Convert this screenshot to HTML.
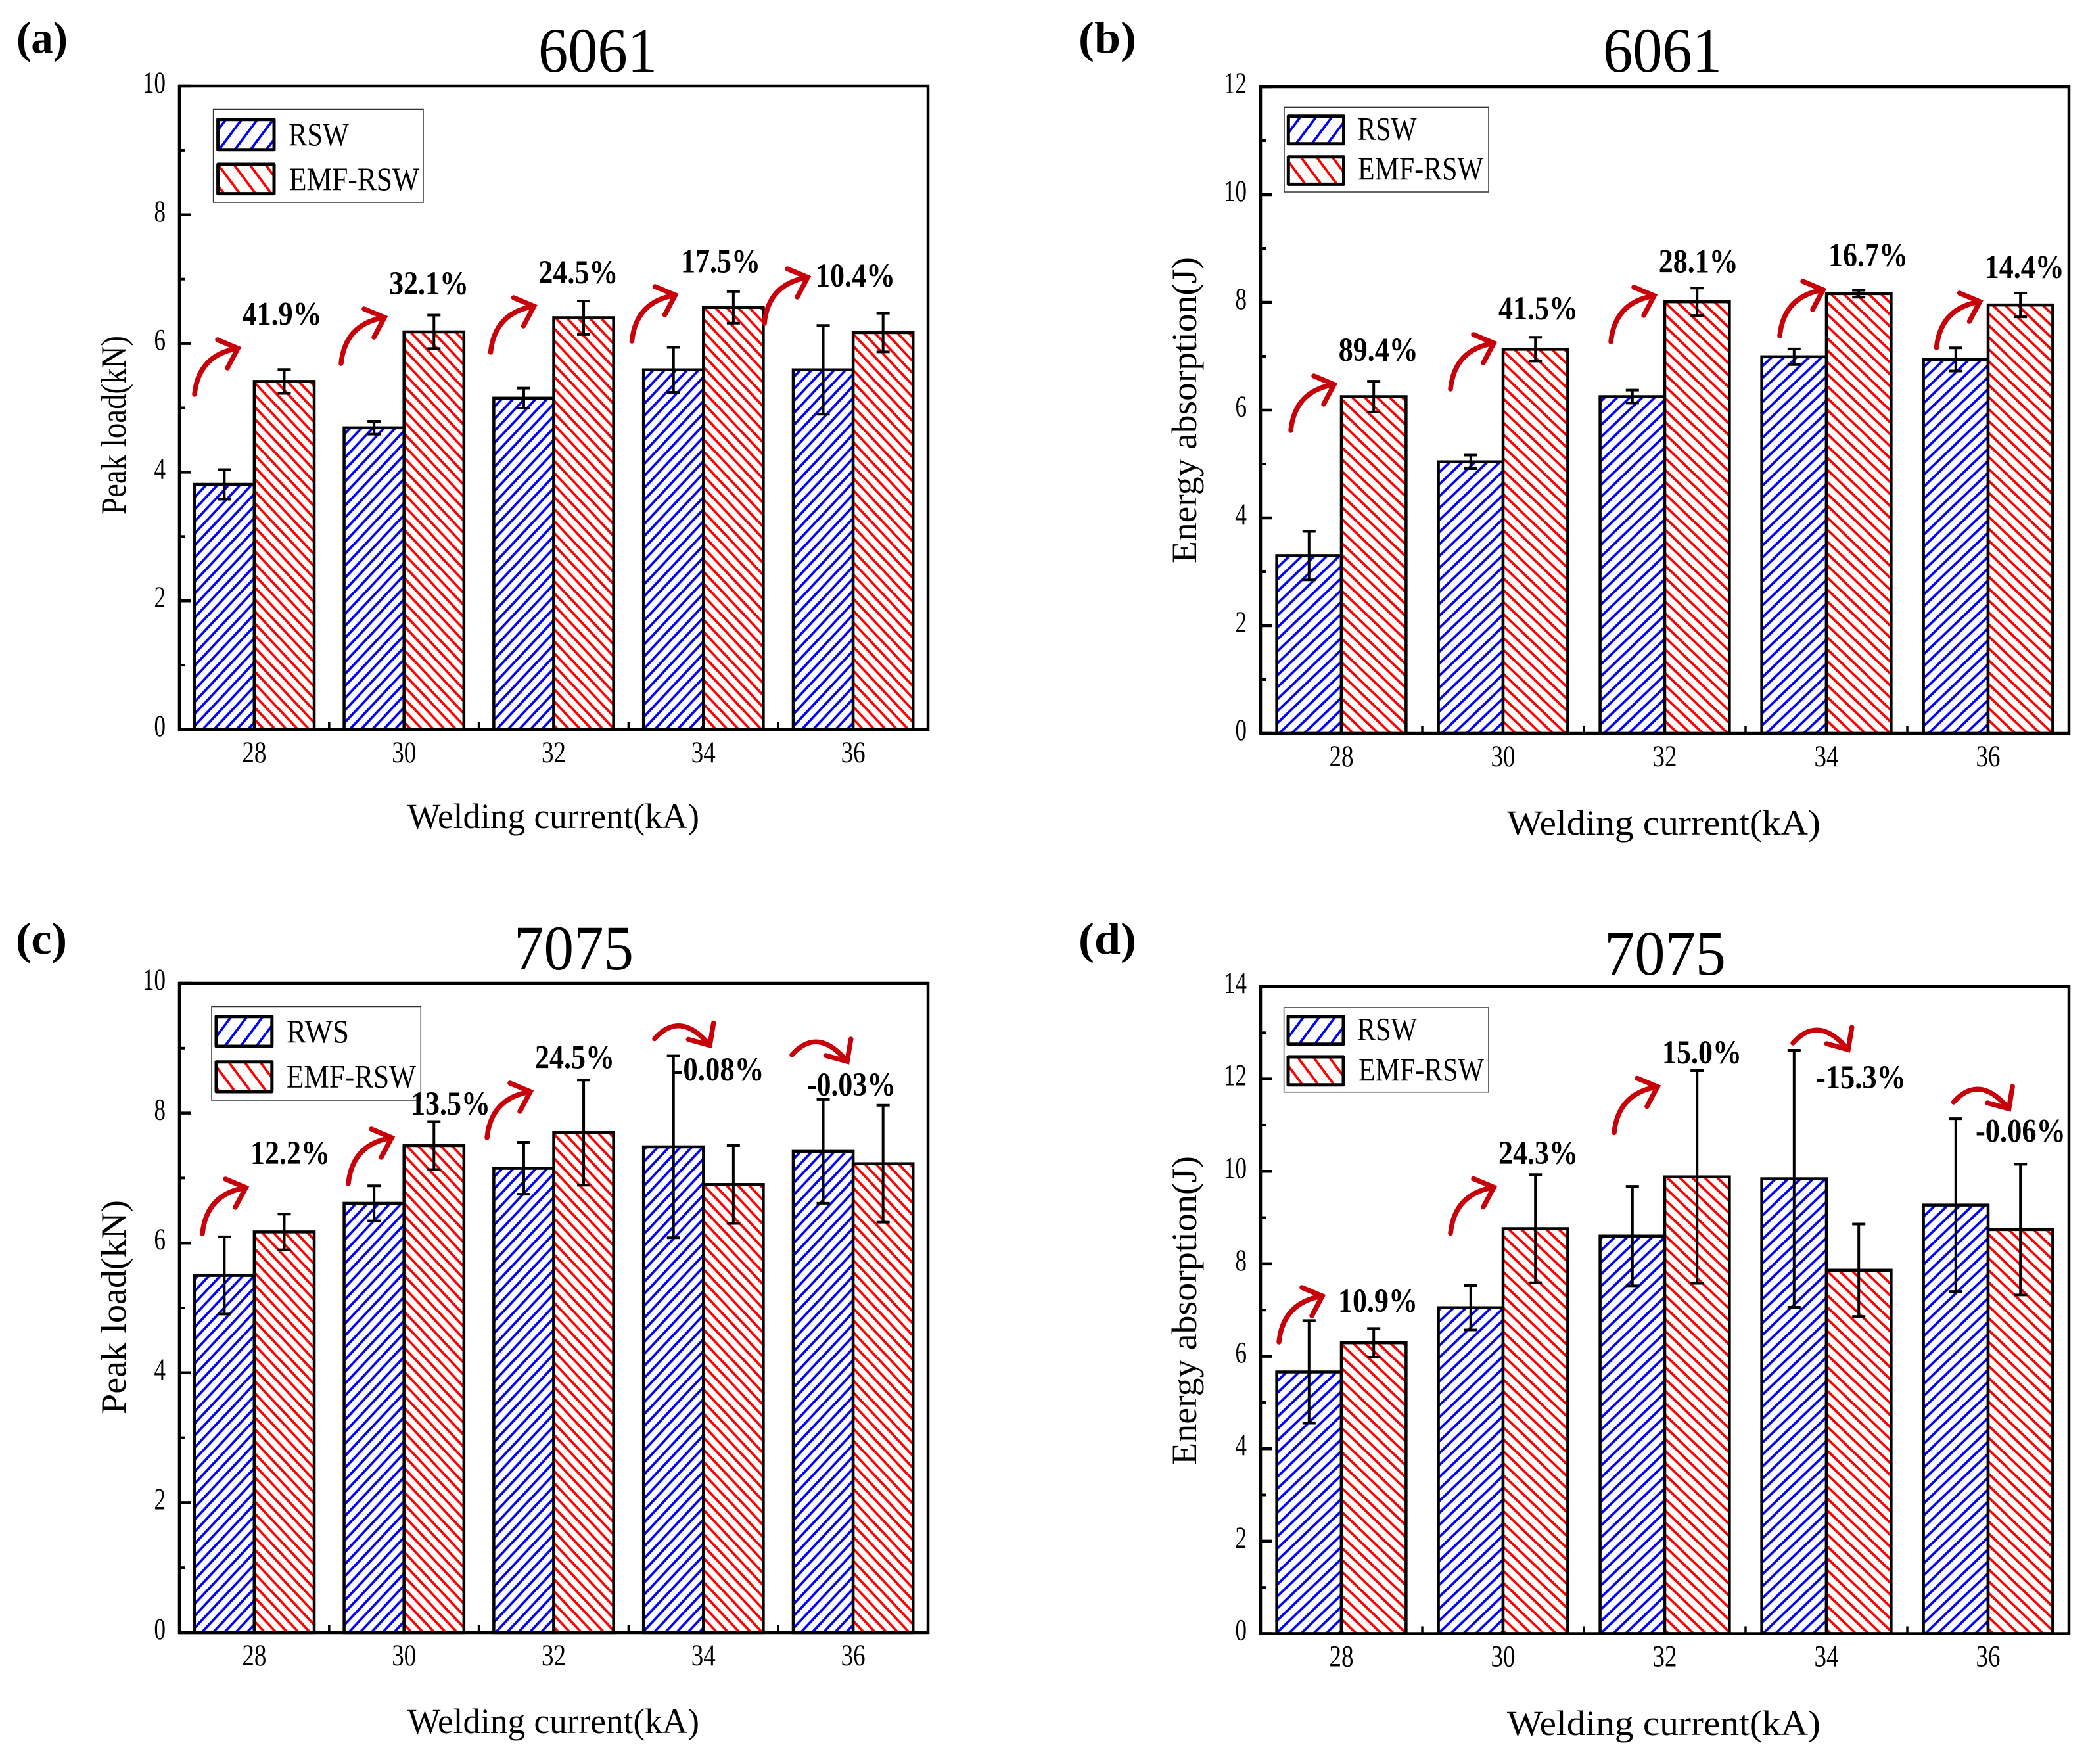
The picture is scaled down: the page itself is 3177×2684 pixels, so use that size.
<!DOCTYPE html>
<html lang="en">
<head>
<meta charset="utf-8">
<title>Peak load and energy absorption of RSW and EMF-RSW joints</title>
<style>
html,body{margin:0;padding:0;background:#fff;}
svg{display:block;}
text{font-family:"Liberation Serif",serif;fill:#000;}
.title{font-size:96px;}
.plabel{font-size:68px;font-weight:bold;}
.axt{font-size:54px;}
.leg{font-size:50px;}
.pct{font-size:51px;font-weight:bold;}
.arrow{fill:none;stroke:#c8000a;stroke-width:7.5;stroke-linecap:round;stroke-linejoin:miter;}
.legbox{fill:#fff;stroke:#333;stroke-width:1.5;}
.swatch{stroke:#000;stroke-width:5;stroke-linejoin:round;}
</style>
</head>
<body>
<svg id="chart" xmlns="http://www.w3.org/2000/svg" width="3177" height="2684" viewBox="0 0 3177 2684">
<defs>
<pattern id="blue-a" patternUnits="userSpaceOnUse" width="17.2" height="18.3" patternTransform="translate(385 936.7)"><rect width="17.2" height="18.3" fill="#fff"/><path d="M-17.2 18.3L17.2 -18.3M-17.2 36.6L34.4 -18.3M0 36.6L34.4 0" stroke="#0000ff" stroke-width="3.8" fill="none"/></pattern>
<pattern id="red-a" patternUnits="userSpaceOnUse" width="17.2" height="18.3" patternTransform="translate(475 913.3)"><rect width="17.2" height="18.3" fill="#fff"/><path d="M-17.2 -18.3L34.4 36.6M0 -18.3L34.4 18.3M-17.2 0L17.2 36.6" stroke="#ff0000" stroke-width="3.8" fill="none"/></pattern>
<pattern id="blue-b" patternUnits="userSpaceOnUse" width="19" height="18.2" patternTransform="translate(2038.3 936.7)"><rect width="19" height="18.2" fill="#fff"/><path d="M-19 18.2L19 -18.2M-19 36.4L38 -18.2M0 36.4L38 0" stroke="#0000ff" stroke-width="3.8" fill="none"/></pattern>
<pattern id="red-b" patternUnits="userSpaceOnUse" width="19" height="18.2" patternTransform="translate(2043 936.7)"><rect width="19" height="18.2" fill="#fff"/><path d="M-19 -18.2L38 36.4M0 -18.2L38 18.2M-19 0L19 36.4" stroke="#ff0000" stroke-width="3.8" fill="none"/></pattern>
<pattern id="blue-leg" patternUnits="userSpaceOnUse" width="24" height="32"><rect width="24" height="32" fill="#fff"/><path d="M-24 32L24 -32M-24 64L48 -32M0 64L48 0" stroke="#0000ff" stroke-width="3.8" fill="none"/></pattern>
<pattern id="red-leg" patternUnits="userSpaceOnUse" width="24" height="32"><rect width="24" height="32" fill="#fff"/><path d="M-24 -32L48 64M0 -32L48 32M-24 0L24 64" stroke="#ff0000" stroke-width="3.8" fill="none"/></pattern>
<path id="arrow-up" d="M-66 70Q-60 10 0 0M-31 -13L0 0L-16 30"/>
<path id="arrow-down" d="M-84 -10Q-45 -54 0 0M5.7 -34L0 0L-32.6 -9"/>
</defs>
<rect width="3177" height="2684" fill="#fff"/>

<g id="marks"></g>

<g>
<text class="plabel" x="25" y="80" textLength="78" lengthAdjust="spacingAndGlyphs">(a)</text>
<text class="title" x="819" y="109" textLength="181" lengthAdjust="spacingAndGlyphs">6061</text>
<text class="axt" transform="translate(191 647) rotate(-90)" text-anchor="middle" textLength="272" lengthAdjust="spacingAndGlyphs">Peak load(kN)</text>
<text class="axt" x="620" y="1260" textLength="444" lengthAdjust="spacingAndGlyphs">Welding current(kA)</text>
<g>
<rect class="legbox" x="324.6" y="166.5" width="319.4" height="141.5"/>
<rect class="swatch" x="331.6" y="181.7" width="85.4" height="46" fill="url(#blue-leg)"/>
<rect class="swatch" x="331.6" y="250" width="85.4" height="44.6" fill="url(#red-leg)"/>
<text class="leg" x="439" y="221" textLength="92" lengthAdjust="spacingAndGlyphs">RSW</text>
<text class="leg" x="440" y="289" textLength="198" lengthAdjust="spacingAndGlyphs">EMF-RSW</text>
</g>
<text class="pct" x="368.6" y="494.6" textLength="121" lengthAdjust="spacingAndGlyphs">41.9%</text>
<text class="pct" x="592" y="448" textLength="121" lengthAdjust="spacingAndGlyphs">32.1%</text>
<text class="pct" x="819.4" y="430.8" textLength="121" lengthAdjust="spacingAndGlyphs">24.5%</text>
<text class="pct" x="1036" y="414.5" textLength="121" lengthAdjust="spacingAndGlyphs">17.5%</text>
<text class="pct" x="1241" y="436" textLength="121" lengthAdjust="spacingAndGlyphs">10.4%</text>
<use class="arrow" href="#arrow-up" x="362" y="530"/>
<use class="arrow" href="#arrow-up" x="585" y="483"/>
<use class="arrow" href="#arrow-up" x="812.5" y="466"/>
<use class="arrow" href="#arrow-up" x="1027.5" y="449"/>
<use class="arrow" href="#arrow-up" x="1229" y="422"/>
</g>

<g>
<text class="plabel" x="1641" y="80" textLength="88" lengthAdjust="spacingAndGlyphs">(b)</text>
<text class="title" x="2439" y="109" textLength="181" lengthAdjust="spacingAndGlyphs">6061</text>
<text class="axt" transform="translate(1820 624) rotate(-90)" text-anchor="middle" textLength="466" lengthAdjust="spacingAndGlyphs">Energy absorption(J)</text>
<text class="axt" x="2293" y="1270" textLength="477" lengthAdjust="spacingAndGlyphs">Welding current(kA)</text>
<g>
<rect class="legbox" x="1954" y="163.4" width="311" height="128.6"/>
<rect class="swatch" x="1960.3" y="176.8" width="84.2" height="42" fill="url(#blue-leg)"/>
<rect class="swatch" x="1960.3" y="238.8" width="84.2" height="41.6" fill="url(#red-leg)"/>
<text class="leg" x="2065.6" y="212.5" textLength="90" lengthAdjust="spacingAndGlyphs">RSW</text>
<text class="leg" x="2066" y="273" textLength="191" lengthAdjust="spacingAndGlyphs">EMF-RSW</text>
</g>
<text class="pct" x="2036.8" y="549" textLength="121" lengthAdjust="spacingAndGlyphs">89.4%</text>
<text class="pct" x="2280" y="486" textLength="121" lengthAdjust="spacingAndGlyphs">41.5%</text>
<text class="pct" x="2523.8" y="414.5" textLength="121" lengthAdjust="spacingAndGlyphs">28.1%</text>
<text class="pct" x="2782" y="405" textLength="121" lengthAdjust="spacingAndGlyphs">16.7%</text>
<text class="pct" x="3019.8" y="423" textLength="121" lengthAdjust="spacingAndGlyphs">14.4%</text>
<use class="arrow" href="#arrow-up" x="2030" y="585"/>
<use class="arrow" href="#arrow-up" x="2273" y="522"/>
<use class="arrow" href="#arrow-up" x="2517" y="450"/>
<use class="arrow" href="#arrow-up" x="2774" y="441"/>
<use class="arrow" href="#arrow-up" x="3012.5" y="459"/>
</g>

<g>
<text class="plabel" x="24" y="1451" textLength="78" lengthAdjust="spacingAndGlyphs">(c)</text>
<text class="title" x="782" y="1475" textLength="182" lengthAdjust="spacingAndGlyphs">7075</text>
<text class="axt" transform="translate(191 1989) rotate(-90)" text-anchor="middle" textLength="326" lengthAdjust="spacingAndGlyphs">Peak load(kN)</text>
<text class="axt" x="620" y="2637" textLength="444" lengthAdjust="spacingAndGlyphs">Welding current(kA)</text>
<g>
<rect class="legbox" x="322" y="1531.5" width="318.3" height="142.5"/>
<rect class="swatch" x="329" y="1546.8" width="84.8" height="45.2" fill="url(#blue-leg)"/>
<rect class="swatch" x="329" y="1615.7" width="84.8" height="45.3" fill="url(#red-leg)"/>
<text class="leg" x="436" y="1586" textLength="95" lengthAdjust="spacingAndGlyphs">RWS</text>
<text class="leg" x="436" y="1654.5" textLength="197" lengthAdjust="spacingAndGlyphs">EMF-RSW</text>
</g>
<text class="pct" x="381" y="1771" textLength="121" lengthAdjust="spacingAndGlyphs">12.2%</text>
<text class="pct" x="625" y="1695.8" textLength="121" lengthAdjust="spacingAndGlyphs">13.5%</text>
<text class="pct" x="814" y="1625.4" textLength="121" lengthAdjust="spacingAndGlyphs">24.5%</text>
<text class="pct" x="1024.5" y="1644" textLength="138" lengthAdjust="spacingAndGlyphs">-0.08%</text>
<text class="pct" x="1228" y="1667" textLength="135" lengthAdjust="spacingAndGlyphs">-0.03%</text>
<use class="arrow" href="#arrow-up" x="374" y="1807"/>
<use class="arrow" href="#arrow-up" x="596" y="1731"/>
<use class="arrow" href="#arrow-up" x="807" y="1661"/>
<use class="arrow" href="#arrow-down" x="1080" y="1590.5"/>
<use class="arrow" href="#arrow-down" x="1289" y="1615"/>
</g>

<g>
<text class="plabel" x="1641" y="1451" textLength="88" lengthAdjust="spacingAndGlyphs">(d)</text>
<text class="title" x="2441" y="1483" textLength="185" lengthAdjust="spacingAndGlyphs">7075</text>
<text class="axt" transform="translate(1820 1994) rotate(-90)" text-anchor="middle" textLength="470" lengthAdjust="spacingAndGlyphs">Energy absorption(J)</text>
<text class="axt" x="2293" y="2640" textLength="477" lengthAdjust="spacingAndGlyphs">Welding current(kA)</text>
<g>
<rect class="legbox" x="1953.6" y="1533" width="311.4" height="128.7"/>
<rect class="swatch" x="1960" y="1546.7" width="84" height="42" fill="url(#blue-leg)"/>
<rect class="swatch" x="1960" y="1608" width="84" height="42.7" fill="url(#red-leg)"/>
<text class="leg" x="2065" y="1582.7" textLength="91" lengthAdjust="spacingAndGlyphs">RSW</text>
<text class="leg" x="2067" y="1644" textLength="191" lengthAdjust="spacingAndGlyphs">EMF-RSW</text>
</g>
<text class="pct" x="2036" y="1996" textLength="121" lengthAdjust="spacingAndGlyphs">10.9%</text>
<text class="pct" x="2280" y="1771" textLength="121" lengthAdjust="spacingAndGlyphs">24.3%</text>
<text class="pct" x="2529" y="1617.8" textLength="121" lengthAdjust="spacingAndGlyphs">15.0%</text>
<text class="pct" x="2763" y="1656" textLength="137" lengthAdjust="spacingAndGlyphs">-15.3%</text>
<text class="pct" x="3006" y="1737.6" textLength="137" lengthAdjust="spacingAndGlyphs">-0.06%</text>
<use class="arrow" href="#arrow-up" x="2012" y="1972"/>
<use class="arrow" href="#arrow-up" x="2273" y="1806.5"/>
<use class="arrow" href="#arrow-up" x="2522" y="1653.5"/>
<use class="arrow" href="#arrow-down" x="2812" y="1597"/>
<use class="arrow" href="#arrow-down" x="3056.5" y="1687"/>
</g>
</svg>

<script>
const categories = [28, 30, 32, 34, 36];
const loadTicks = [0, 2, 4, 6, 8, 10];
const energyTicks6061 = [0, 2, 4, 6, 8, 10, 12];
const energyTicks7075 = [0, 2, 4, 6, 8, 10, 12, 14];

const load6061Rsw = [3.81, 4.69, 5.15, 5.59, 5.59];
const load6061RswErr = [0.23, 0.10, 0.155, 0.35, 0.69];
const load6061Emf = [5.41, 6.18, 6.40, 6.56, 6.17];
const load6061EmfErr = [0.185, 0.26, 0.26, 0.245, 0.30];

const energy6061Rsw = [3.30, 5.04, 6.25, 6.99, 6.94];
const energy6061RswErr = [0.45, 0.125, 0.12, 0.145, 0.215];
const energy6061Emf = [6.25, 7.13, 8.01, 8.16, 7.95];
const energy6061EmfErr = [0.285, 0.22, 0.255, 0.065, 0.22];

const load7075Rsw = [5.50, 6.61, 7.15, 7.48, 7.41];
const load7075RswErr = [0.595, 0.27, 0.40, 1.40, 0.80];
const load7075Emf = [6.17, 7.50, 7.70, 6.90, 7.22];
const load7075EmfErr = [0.275, 0.37, 0.81, 0.60, 0.90];

const energy7075Rsw = [5.66, 7.05, 8.60, 9.84, 9.27];
const energy7075RswErr = [1.11, 0.48, 1.075, 2.78, 1.87];
const energy7075Emf = [6.29, 8.76, 9.88, 7.86, 8.74];
const energy7075EmfErr = [0.31, 1.17, 2.30, 1.00, 1.415];

const NS = 'http://www.w3.org/2000/svg';
const marksRoot = document.getElementById('marks');

function make(tag, attrs, parent) {
  const el = document.createElementNS(NS, tag);
  for (const k in attrs) el.setAttribute(k, attrs[k]);
  parent.appendChild(el);
  return el;
}

function drawPanel(id, box, ticks, rsw, rswErr, emf, emfErr, blueFill, redFill) {
  const group = make('g', {}, marksRoot);
  
  

  const yMax = ticks[ticks.length - 1];
  const y = v => box.bottom - (v / yMax) * (box.bottom - box.top);
  const band = (box.right - box.left) / categories.length;
  const x = i => box.left + (i + 0.5) * band;
  const barW = band * 0.4;

  ticks.forEach((t, i) => {
    const line = make('line', {x1: box.left, x2: box.left + 18, y1: y(t), y2: y(t), stroke: '#000', 'stroke-width': 4.5}, group);
    
    
    const s = String(t);
    const label = make('text', {x: box.left - 21, y: y(t) + 10, 'text-anchor': 'end', 'font-size': 47, textLength: 17.5 * s.length, lengthAdjust: 'spacingAndGlyphs'}, group);
    label.textContent = s;
    
    
    if (i < ticks.length - 1) {
      const mid = (t + ticks[i + 1]) / 2;
      const minor = make('line', {x1: box.left, x2: box.left + 9, y1: y(mid), y2: y(mid), stroke: '#000', 'stroke-width': 4}, group);
      
      
    }
  });

  categories.forEach((c, i) => {
    const label = make('text', {x: x(i), y: box.bottom + 50, 'text-anchor': 'middle', 'font-size': 47, textLength: 37, lengthAdjust: 'spacingAndGlyphs'}, group);
    label.textContent = String(c);
    
    
    if (i < categories.length - 1) {
      const minorX = x(i) + band / 2;
      const minor = make('line', {x1: minorX, x2: minorX, y1: box.bottom, y2: box.bottom - 11, stroke: '#000', 'stroke-width': 3.5}, group);
      
      
    }
  });

  categories.forEach((c, i) => {
    const b1 = make('rect', {x: x(i) - barW, y: y(rsw[i]), width: barW, height: y(0) - y(rsw[i]), fill: blueFill, stroke: '#000', 'stroke-width': 4.5}, group);
    
    
    const b2 = make('rect', {x: x(i), y: y(emf[i]), width: barW, height: y(0) - y(emf[i]), fill: redFill, stroke: '#000', 'stroke-width': 4.5}, group);
    
    
  });

  function errorBar(cx, value, err, name) {
    const top = y(value + err);
    const bottom = y(value - err);
    const e = make('path', {d: 'M' + cx + ' ' + top + 'V' + bottom + 'M' + (cx - 10) + ' ' + top + 'H' + (cx + 10) + 'M' + (cx - 10) + ' ' + bottom + 'H' + (cx + 10), stroke: '#000', 'stroke-width': 4, fill: 'none'}, group);
    
    
  }
  categories.forEach((c, i) => {
    errorBar(x(i) - barW / 2, rsw[i], rswErr[i], 'error-bar-rsw-' + c);
    errorBar(x(i) + barW / 2, emf[i], emfErr[i], 'error-bar-emf-rsw-' + c);
  });

  const frame = make('rect', {x: box.left, y: box.top, width: box.right - box.left, height: box.bottom - box.top, fill: 'none', stroke: '#000', 'stroke-width': 4.5}, group);
  
  
}

drawPanel('a', {left: 273, right: 1412, top: 131, bottom: 1110}, loadTicks, load6061Rsw, load6061RswErr, load6061Emf, load6061EmfErr, 'url(#blue-a)', 'url(#red-a)');
drawPanel('b', {left: 1918, right: 3148, top: 132, bottom: 1116}, energyTicks6061, energy6061Rsw, energy6061RswErr, energy6061Emf, energy6061EmfErr, 'url(#blue-b)', 'url(#red-b)');
drawPanel('c', {left: 273, right: 1412, top: 1496, bottom: 2484}, loadTicks, load7075Rsw, load7075RswErr, load7075Emf, load7075EmfErr, 'url(#blue-a)', 'url(#red-a)');
drawPanel('d', {left: 1918, right: 3148, top: 1501, bottom: 2485.5}, energyTicks7075, energy7075Rsw, energy7075RswErr, energy7075Emf, energy7075EmfErr, 'url(#blue-b)', 'url(#red-b)');
</script>
</body>
</html>
